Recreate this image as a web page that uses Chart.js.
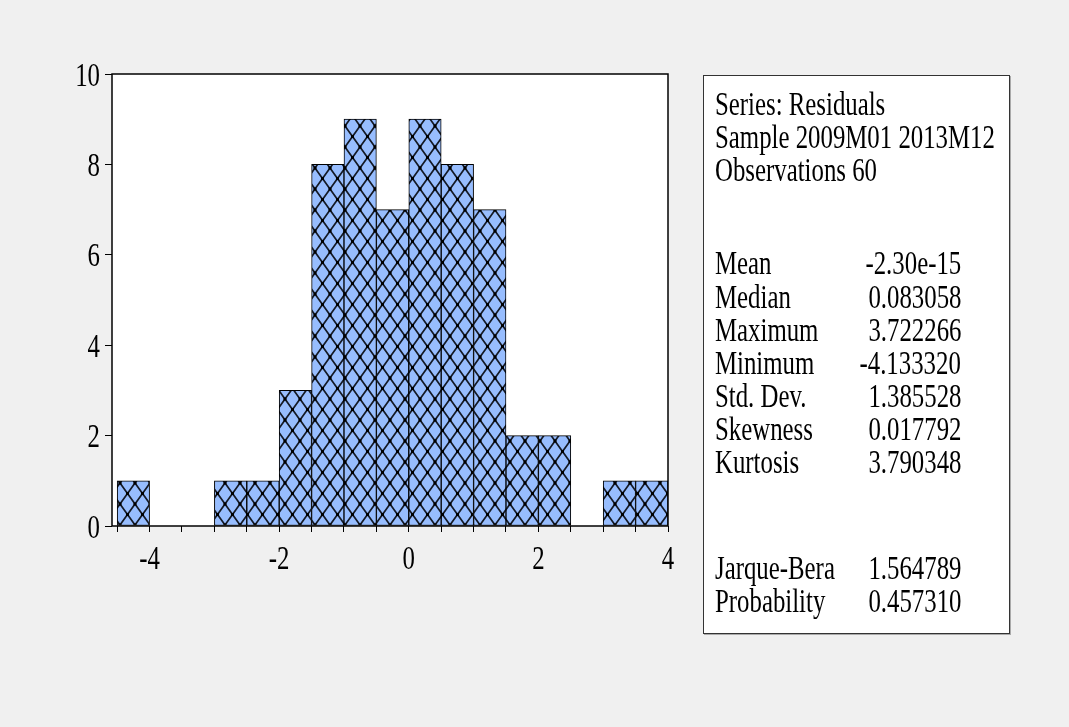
<!DOCTYPE html>
<html>
<head>
<meta charset="utf-8">
<script src="https://cdn.jsdelivr.net/npm/chart.js@4"></script>
<style>
  html, body { margin: 0; padding: 0; background: #f0f0f0; }
  #wrap { position: relative; width: 1069px; height: 727px; background: #f0f0f0; overflow: hidden; }
  #hist { position: absolute; left: 0; top: 0; }
  #stats { position: absolute; left: 703px; top: 75px; width: 305px; height: 557px;
           background: #fff; border: 1px solid #333; box-shadow: 1px 1px 0 #aaa; }
  .ln { position: absolute; height: 34px; line-height: 34px; white-space: nowrap;
        font: 34px "Liberation Serif", "Times New Roman", serif; color: #000; }
  .lab { transform: scaleX(0.73); transform-origin: left center; }
  .val { transform: scaleX(0.73); transform-origin: right center; text-align: right; }
</style>
</head>
<body>
<div id="wrap">
  <canvas id="hist" width="1069" height="727"></canvas>
  <div id="stats"></div>
</div>
<script>
// histogram bins (width 0.5) and their counts
var binCenters = [-4.25, -3.75, -3.25, -2.75, -2.25, -1.75, -1.25, -0.75, -0.25,
                  0.25, 0.75, 1.25, 1.75, 2.25, 2.75, 3.25, 3.75];
var counts = [1, 0, 0, 1, 1, 3, 8, 9, 7, 9, 8, 7, 2, 2, 0, 1, 1];

// axis ticks
var xTickMarks = [-4.5, -4, -3.5, -3, -2.5, -2, -1.5, -1, -0.5, 0, 0.5, 1, 1.5, 2, 2.5, 3, 3.5, 4];
var xTickLabels = [-4, -2, 0, 2, 4];
var yTickLabels = [0, 2, 4, 6, 8, 10];

// statistics panel
var headerLines = ['Series: Residuals', 'Sample 2009M01 2013M12', 'Observations 60'];
var statNames = ['Mean', 'Median', 'Maximum', 'Minimum', 'Std. Dev.', 'Skewness', 'Kurtosis'];
var statValues = ['-2.30e-15', '0.083058', '3.722266', '-4.133320', '1.385528', '0.017792', '3.790348'];
var testNames = ['Jarque-Bera', 'Probability'];
var testValues = ['1.564789', '0.457310'];

var FONT = '34px "Liberation Serif", "Times New Roman", serif';

// crosshatch fill like the EViews bars
function makePattern() {
    var c = document.createElement('canvas');
    c.width = 15; c.height = 21;
    var p = c.getContext('2d');
    p.fillStyle = '#97bdfe';
    p.fillRect(0, 0, 15, 21);
    p.strokeStyle = '#141a26';
    p.lineWidth = 1.7;
    p.beginPath();
    p.moveTo(-15, -21); p.lineTo(30, 42);
    p.moveTo(30, -21); p.lineTo(-15, 42);
    p.stroke();
    p.fillStyle = '#000';
    [[0, 0], [15, 0], [0, 21], [15, 21], [7.5, 10.5]].forEach(function (d) {
        p.fillRect(d[0] - 1.5, d[1] - 1.5, 3, 3);
    });
    return p.createPattern(c, 'repeat');
}

var framePlugin = {
    id: 'frame',
    beforeDraw: function (chart) {
        var ctx = chart.ctx, a = chart.chartArea;
        ctx.save();
        ctx.fillStyle = '#fff';
        ctx.fillRect(a.left, a.top, a.right - a.left, a.bottom - a.top);
        ctx.restore();
    },
    afterDraw: function (chart) {
        var ctx = chart.ctx, a = chart.chartArea;
        var xs = chart.scales.x, ys = chart.scales.y;
        ctx.save();
        ctx.strokeStyle = '#000';
        ctx.lineWidth = 1.5;
        ctx.strokeRect(a.left, a.top, a.right - a.left, a.bottom - a.top);

        ctx.fillStyle = '#000';
        ctx.font = FONT;
        ctx.textBaseline = 'alphabetic';
        yTickLabels.forEach(function (v) {
            var y = ys.getPixelForValue(v);
            ctx.save();
            ctx.translate(100, y + 11.5);
            ctx.scale(0.73, 1);
            ctx.textAlign = 'right';
            ctx.fillText(String(v), 0, 0);
            ctx.restore();
        });
        xTickLabels.forEach(function (v) {
            var x = xs.getPixelForValue(v);
            ctx.save();
            ctx.translate(x, 569);
            ctx.scale(0.73, 1);
            ctx.textAlign = 'center';
            ctx.fillText(String(v), 0, 0);
            ctx.restore();
        });
        ctx.restore();
    }
};

var config = {
    type: 'bar',
    data: {
        datasets: [{
            data: binCenters.map(function (c, i) { return { x: c, y: counts[i] }; }),
            backgroundColor: makePattern(),
            borderColor: '#000',
            borderWidth: 1,
            borderSkipped: false,
            barPercentage: 1,
            categoryPercentage: 1
        }]
    },
    options: {
        responsive: false,
        animation: false,
        events: [],
        layout: { padding: { left: 0, top: 74, right: 401, bottom: 141 } },
        plugins: { legend: { display: false }, tooltip: { enabled: false } },
        scales: {
            x: {
                type: 'linear',
                offset: false,
                min: -4.58,
                max: 4,
                afterBuildTicks: function (s) {
                    s.ticks = xTickMarks.map(function (v) { return { value: v }; });
                },
                afterFit: function (s) { s.height = 60; },
                ticks: { display: false },
                grid: { display: true, offset: false, drawOnChartArea: false, drawTicks: true, tickLength: 6, color: '#000', tickColor: '#000' },
                border: { display: false }
            },
            y: {
                min: 0,
                max: 10,
                afterBuildTicks: function (s) {
                    s.ticks = yTickLabels.map(function (v) { return { value: v }; });
                },
                afterFit: function (s) { s.width = 112; },
                ticks: { display: false },
                grid: { display: true, drawOnChartArea: false, drawTicks: true, tickLength: 7, color: '#000', tickColor: '#000' },
                border: { display: false }
            }
        }
    },
    plugins: [framePlugin]
};

var ctx = document.getElementById('hist').getContext('2d');
window.myHist = new Chart(ctx, config);

// statistics box text
var box = document.getElementById('stats');
function addLine(text, cls, centerY, left, right) {
    var d = document.createElement('div');
    d.className = 'ln ' + cls;
    d.textContent = text;
    d.style.top = (centerY - 75 - 20) + 'px';
    if (left !== null) d.style.left = left + 'px';
    if (right !== null) d.style.right = right + 'px';
    box.appendChild(d);
}
var headerY = [104, 137, 170];
headerLines.forEach(function (t, i) { addLine(t, 'lab', headerY[i], 11, null); });
var statY = [263, 297, 330, 363, 396, 429, 462];
statNames.forEach(function (t, i) {
    addLine(t, 'lab', statY[i], 11, null);
    addLine(statValues[i], 'val', statY[i], null, 48);
});
var testY = [568, 601];
testNames.forEach(function (t, i) {
    addLine(t, 'lab', testY[i], 11, null);
    addLine(testValues[i], 'val', testY[i], null, 48);
});
</script>
</body>
</html>
